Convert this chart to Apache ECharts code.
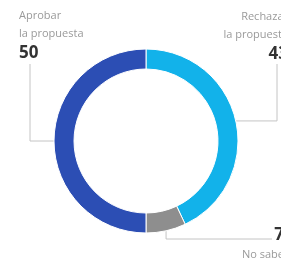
<!DOCTYPE html>
<html>
<head>
<meta charset="utf-8">
<script src="https://cdn.jsdelivr.net/npm/echarts@6/dist/echarts.min.js"></script>
<style>
  html, body { margin: 0; padding: 0; background: #fff; }
  #chart { width: 281px; height: 259px; }
</style>
</head>
<body>
<div id="chart"></div>
<script>
// orden horario desde arriba
const categories = ['Rechazar la propuesta', 'No sabe', 'Aprobar la propuesta'];
const values = [43, 7, 50];
const colors = ['#12b2ea', '#8e8e8e', '#2c4eb4'];

const myChart = echarts.init(document.getElementById('chart'));

myChart.setOption({
  animation: false,
  series: [
    {
      type: 'pie',
      radius: [72, 92],
      center: [146, 141],
      startAngle: 90,
      clockwise: true,
      avoidLabelOverlap: false,
      itemStyle: { borderColor: '#fff', borderWidth: 1 },
      label: {
        show: true,
        position: 'outside',
        fontFamily: 'Open Sans',
        formatter: function (p) {
          let name = p.name.replace(' la ', '\nla ').split('\n').map(s => '{n|' + s + '}').join('\n');
          if (p.dataIndex === 1) return '{v|' + p.value + '}\n' + name;   // "No sabe": cifra arriba
          return name + '\n{v|' + p.value + '}';
        },
        rich: {
          n: { fontSize: 11, color: '#9a9a9a', lineHeight: 18, fontFamily: 'Open Sans' },
          v: { fontSize: 17, fontWeight: 'bold', color: '#333', lineHeight: 21, fontFamily: 'Open Sans' }
        }
      },
      labelLine: { show: true, lineStyle: { color: '#c4c4c4', width: 1 } },
      labelLayout: function (params) {
        const p0 = params.labelLinePoints ? params.labelLinePoints[0] : [0, 0];
        if (params.dataIndex === 2) {
          // Aprobar (izquierda)
          return {
            x: 19, y: 7, align: 'left', verticalAlign: 'top',
            labelLinePoints: [p0, [30, p0[1]], [30, 64]]
          };
        }
        if (params.dataIndex === 0) {
          // Rechazar (derecha, cortado)
          return {
            x: 288, y: 8, align: 'right', verticalAlign: 'top',
            labelLinePoints: [p0, [277, p0[1]], [277, 64]]
          };
        }
        // No sabe (abajo derecha)
        return {
          x: 284, y: 225, align: 'right', verticalAlign: 'top',
          labelLinePoints: [p0, [p0[0], 239], [272, 239]]
        };
      },
      data: categories.map((c, i) => ({ name: c, value: values[i], itemStyle: { color: colors[i] } }))
    }
  ]
});
</script>
</body>
</html>
